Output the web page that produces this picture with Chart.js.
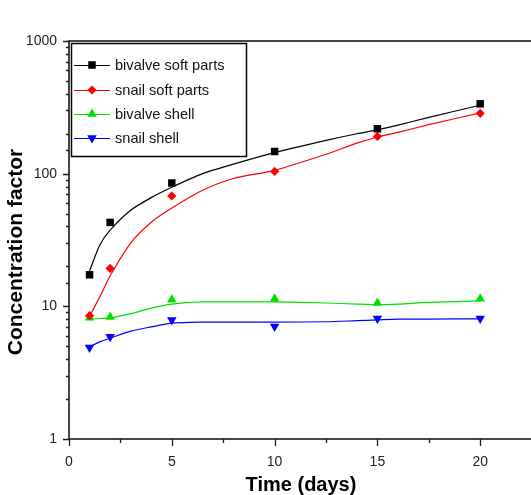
<!DOCTYPE html>
<html>
<head>
<meta charset="utf-8">
<script src="https://cdn.jsdelivr.net/npm/chart.js@4.4.0/dist/chart.umd.min.js"></script>
<style>
  html, body { margin: 0; padding: 0; background: #fff; overflow: hidden; }
</style>
</head>
<body>
<canvas id="cf" width="600" height="495"></canvas>
<script>
  // measured points
  const days = [1, 2, 5, 10, 15, 20];
  const bivalveSoft = [17.3, 42.9, 85, 147, 218, 336];
  const snailSoft = [8.5, 19.3, 68, 104, 191, 285];
  const bivalveShell = [8.2, 8.3, 11.2, 11.4, 10.6, 11.4];
  const snailShell = [4.9, 5.9, 7.9, 7.05, 8.1, 8.1];

  // fitted curves
  const fitDays = [1, 1.5, 2, 3, 4, 5, 6.5, 8, 10, 12.5, 14, 15, 16, 17.5, 20];
  const bivalveSoftFit = [18.5, 29, 37.5, 53, 66, 79, 100, 118, 144, 178, 200, 214, 232, 266, 328];
  const snailSoftFit = [8.4, 11.8, 17, 30, 43, 55, 75, 92, 106, 140, 170, 189, 205, 234, 287];
  const bivalveShellFit = [8.0, 8.1, 8.15, 8.8, 9.7, 10.4, 10.8, 10.8, 10.8, 10.6, 10.4, 10.3, 10.4, 10.7, 11.0];
  const snailShellFit = [4.97, 5.4, 5.75, 6.5, 7.0, 7.47, 7.6, 7.6, 7.6, 7.65, 7.8, 7.9, 8.0, 8.02, 8.04];

  const seriesNames = ['bivalve soft parts', 'snail soft parts', 'bivalve shell', 'snail shell'];
  const seriesColors = ['#000000', '#ff0000', '#00e000', '#0000ff'];
  const xTickLabels = [0, 5, 10, 15, 20];
  const yTickLabels = [1, 10, 100, 1000];

  const markers = [
    { style: 'rect', radius: 5.3, rotation: 0 },
    { style: 'rectRot', radius: 4.6, rotation: 0 },
    { style: 'triangle', radius: 5.5, rotation: 0 },
    { style: 'triangle', radius: 5.5, rotation: 180 }
  ];

  function toXY(xs, ys) {
    return xs.map((x, i) => ({ x: x, y: ys[i] }));
  }

  const pointSets = [bivalveSoft, snailSoft, bivalveShell, snailShell];
  const fitSets = [bivalveSoftFit, snailSoftFit, bivalveShellFit, snailShellFit];

  const datasets = [];
  pointSets.forEach((vals, i) => {
    datasets.push({
      label: seriesNames[i],
      data: toXY(days, vals),
      showLine: false,
      pointStyle: markers[i].style,
      pointRadius: markers[i].radius,
      rotation: markers[i].rotation,
      backgroundColor: seriesColors[i],
      borderColor: seriesColors[i],
      borderWidth: 0
    });
  });
  fitSets.forEach((vals, i) => {
    datasets.push({
      label: seriesNames[i] + ' fit',
      data: toXY(fitDays, vals),
      showLine: true,
      pointRadius: 0,
      borderColor: seriesColors[i],
      borderWidth: 1.2,
      tension: 0.25,
      fill: false
    });
  });

  const AXIS_FONT = { family: '"Liberation Sans", Arial, sans-serif', size: 14 };

  const decorations = {
    id: 'decorations',
    afterDraw(chart) {
      const ctx = chart.ctx;
      const a = chart.chartArea;
      const xs = chart.scales.x;
      const ys = chart.scales.y;
      ctx.save();

      // frame
      ctx.strokeStyle = '#1a1a1a';
      ctx.lineWidth = 1.6;
      ctx.strokeRect(a.left, a.top, a.right - a.left, a.bottom - a.top);

      // outward ticks
      ctx.lineWidth = 1.3;
      ctx.beginPath();
      xs.ticks.forEach(t => {
        const px = Math.round(xs.getPixelForValue(t.value)) + 0.5;
        const len = xTickLabels.includes(t.value) ? 7 : 4;
        ctx.moveTo(px, a.bottom);
        ctx.lineTo(px, a.bottom + len);
      });
      ys.ticks.forEach(t => {
        const py = Math.round(ys.getPixelForValue(t.value)) + 0.5;
        const len = yTickLabels.includes(t.value) ? 6 : 3;
        ctx.moveTo(a.left, py);
        ctx.lineTo(a.left - len, py);
      });
      ctx.stroke();

      // legend box
      const lx = 71.5, ly = 43.5, lw = 175, lh = 113;
      ctx.lineWidth = 1.5;
      ctx.strokeStyle = '#000';
      ctx.strokeRect(lx, ly, lw, lh);
      const rows = [65, 90, 114, 138];
      ctx.font = '14.6px "Liberation Sans", Arial, sans-serif';
      ctx.textBaseline = 'middle';
      ctx.textAlign = 'left';
      seriesNames.forEach((name, i) => {
        const y = rows[i];
        ctx.strokeStyle = seriesColors[i];
        ctx.lineWidth = 1.2;
        ctx.beginPath();
        ctx.moveTo(74, y + 0.5);
        ctx.lineTo(110, y + 0.5);
        ctx.stroke();
        ctx.fillStyle = seriesColors[i];
        Chart.helpers.drawPoint(ctx, {
          pointStyle: markers[i].style,
          radius: markers[i].radius,
          rotation: markers[i].rotation,
          borderWidth: 0
        }, 92, y);
        ctx.fillStyle = '#111';
        ctx.fillText(name, 115, y + 1);
      });

      // axis titles
      ctx.fillStyle = '#000';
      ctx.textAlign = 'center';
      ctx.textBaseline = 'middle';
      ctx.font = 'bold 21px "Liberation Sans", Arial, sans-serif';
      ctx.save();
      ctx.translate(16, 252);
      ctx.rotate(-Math.PI / 2);
      ctx.fillText('Concentration factor', 0, 0);
      ctx.restore();
      ctx.font = 'bold 20px "Liberation Sans Narrow", "Liberation Sans", Arial, sans-serif';
      ctx.fillText('Time (days)', 301, 485);

      ctx.restore();
    }
  };

  new Chart(document.getElementById('cf'), {
    type: 'line',
    data: { datasets: datasets },
    options: {
      responsive: false,
      animation: false,
      events: [],
      layout: { padding: { left: 0, top: 41, right: 17, bottom: 0 } },
      plugins: {
        legend: { display: false },
        tooltip: { enabled: false },
        title: { display: false }
      },
      scales: {
        x: {
          type: 'linear',
          min: 0,
          max: 25,
          afterFit(s) { s.height = 56; },
          grid: { drawOnChartArea: false, drawTicks: true, tickLength: 7, tickColor: 'rgba(0,0,0,0)' },
          border: { display: false },
          ticks: {
            stepSize: 2.5,
            autoSkip: false,
            maxRotation: 0,
            padding: 8,
            color: '#222',
            font: AXIS_FONT,
            callback: v => xTickLabels.includes(v) ? String(v) : ''
          }
        },
        y: {
          type: 'logarithmic',
          min: 1,
          max: 1000,
          afterFit(s) { s.width = 69; },
          grid: { drawOnChartArea: false, drawTicks: true, tickLength: 6, tickColor: 'rgba(0,0,0,0)' },
          border: { display: false },
          ticks: {
            autoSkip: false,
            padding: 6,
            color: '#222',
            font: AXIS_FONT,
            callback: v => yTickLabels.includes(v) ? String(v) : ''
          }
        }
      }
    },
    plugins: [decorations]
  });
</script>
</body>
</html>
